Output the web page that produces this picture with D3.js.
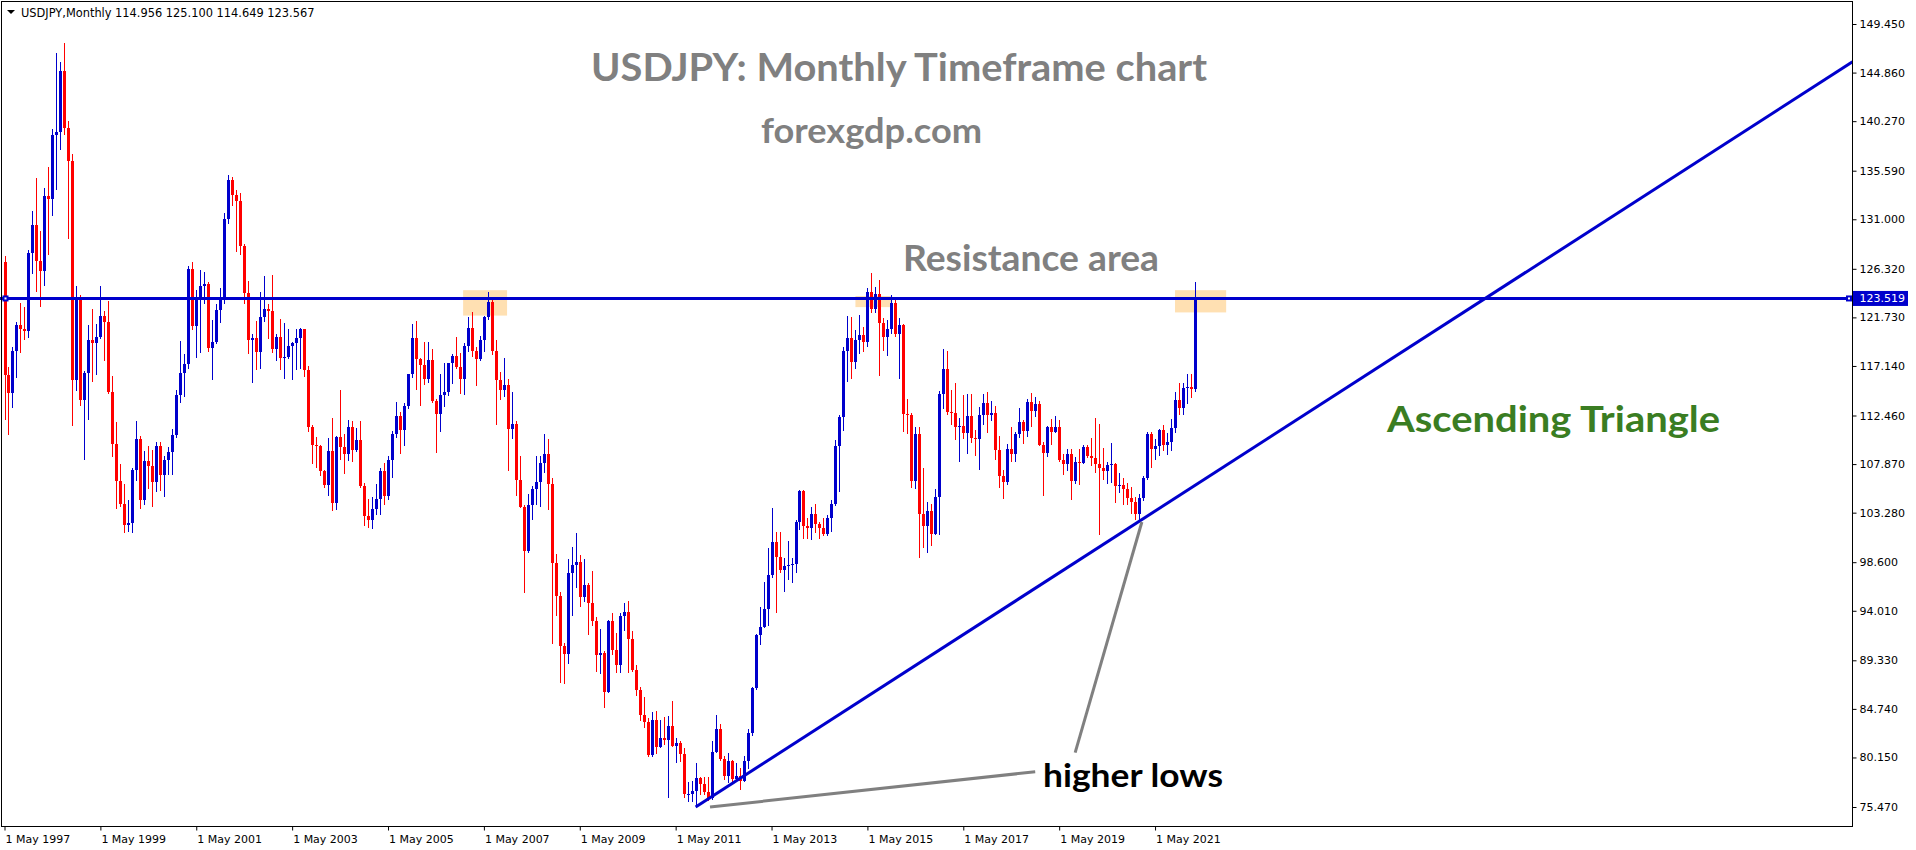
<!DOCTYPE html>
<html>
<head>
<meta charset="utf-8">
<title>USDJPY Monthly</title>
<script src="https://cdn.jsdelivr.net/npm/d3@7"></script>
<style>
  html, body { margin: 0; padding: 0; background: #fff; }
  svg { display: block; }
  .axis text { font-family: 'DejaVu Sans', sans-serif; font-size: 11px; fill: #000; }
  .axis line { stroke: #000; }
  .header { font-family: 'DejaVu Sans', sans-serif; font-size: 11.4px; fill: #000; }
  .price-tag { font-family: 'DejaVu Sans', sans-serif; font-size: 11px; fill: #fff; }
  .note { font-family: Lato, 'Open Sans', sans-serif; font-weight: 700; }
</style>
</head>
<body>
<div class="chart-container"></div>
<script>
// monthly bars, May 1997 .. Mar 2022 (one row per year)
const opens = [
  127.0, 116.3, 114.6, 118.6, 121.0, 120.6, 120.4, 127.8,
  130.5, 127.1, 126.1, 133.2, 132.9, 139.0, 139.2, 145.0, 139.6, 136.5, 115.8, 123.5,
  113.9, 116.5, 119.6, 119.3, 119.9, 121.9, 121.3, 114.7, 109.8, 106.3, 104.1, 102.1,
  102.3, 107.3, 110.2, 104.5, 108.2, 107.7, 106.2, 109.6, 106.8, 108.3, 109.0, 110.6,
  114.4, 116.5, 117.3, 126.3, 120.9, 123.7, 124.7, 124.9, 118.8, 119.4, 122.4, 123.6,
  131.0, 134.7, 133.3, 132.7, 128.5, 124.0, 119.6, 119.8, 118.5, 121.8, 122.5, 122.3,
  118.7, 119.9, 117.9, 118.0, 119.0, 119.3, 119.8, 120.6, 116.8, 111.4, 109.7, 109.6,
  107.2, 105.9, 109.1, 104.2, 110.4, 109.5, 108.8, 111.4, 109.2, 110.1, 105.8, 103.0,
  102.6, 103.6, 104.6, 107.2, 104.9, 108.3, 110.7, 112.4, 111.1, 113.4, 116.4, 119.8,
  117.8, 117.2, 115.9, 117.7, 113.8, 112.6, 114.4, 114.7, 117.4, 118.1, 117.0, 115.9,
  119.0, 120.7, 118.6, 117.8, 119.6, 121.8, 123.2, 118.6, 115.8, 114.9, 115.3, 111.2,
  111.7, 106.4, 103.8, 99.7, 104.0, 105.5, 106.2, 108.0, 108.8, 106.0, 98.5, 95.4,
  90.7, 89.9, 97.6, 98.3, 98.6, 95.3, 96.4, 94.7, 93.0, 89.8, 90.0, 86.3,
  93.0, 90.3, 88.9, 93.5, 93.9, 91.3, 88.4, 86.5, 84.2, 83.5, 80.4, 83.7,
  81.1, 82.0, 81.8, 83.1, 81.2, 81.5, 80.5, 76.7, 76.7, 77.0, 78.2, 77.6,
  76.9, 76.3, 80.7, 82.8, 80.0, 78.4, 79.8, 78.1, 78.4, 77.9, 79.8, 82.5,
  86.7, 91.7, 92.5, 94.2, 97.4, 100.5, 99.1, 97.9, 98.2, 98.3, 98.4, 102.4,
  105.3, 102.0, 101.8, 103.2, 102.2, 101.8, 101.3, 102.8, 104.1, 109.6, 112.3, 118.6,
  119.8, 117.5, 119.6, 120.1, 119.4, 124.1, 122.5, 123.9, 121.2, 119.9, 120.6, 123.1,
  120.2, 121.0, 112.6, 112.5, 106.3, 110.7, 103.2, 102.0, 103.4, 101.3, 104.8, 114.5,
  116.9, 112.8, 112.7, 111.4, 111.5, 110.8, 112.4, 110.3, 110.2, 112.5, 113.6, 112.5,
  112.7, 109.2, 106.7, 106.2, 109.3, 108.8, 110.7, 111.8, 111.0, 113.7, 112.9, 113.5,
  109.7, 108.9, 111.4, 110.9, 111.4, 108.3, 107.9, 108.8, 106.3, 108.1, 108.0, 109.5,
  108.6, 108.4, 107.9, 107.5, 107.2, 107.8, 107.9, 105.8, 105.9, 105.5, 104.7, 104.3,
  103.2, 104.7, 106.6, 110.7, 109.3, 109.6, 111.1, 109.7, 110.0, 111.3, 113.9, 113.2,
  115.08, 115.12, 114.956
];
const highs = [
  127.5, 117.0, 118.9, 121.3, 123.1, 122.7, 128.1, 131.8,
  134.9, 129.9, 134.0, 135.9, 139.5, 146.7, 145.9, 147.7, 140.3, 137.2, 124.7, 123.8,
  116.7, 121.0, 122.5, 121.1, 124.7, 122.3, 123.3, 116.2, 111.8, 107.9, 106.0, 104.5,
  107.5, 111.9, 110.5, 109.1, 109.6, 109.2, 110.0, 110.0, 108.6, 109.5, 111.2, 114.9,
  119.5, 118.3, 126.6, 127.0, 124.3, 126.2, 126.0, 125.1, 121.5, 123.0, 124.5, 131.6,
  135.2, 135.0, 133.8, 133.5, 128.7, 125.2, 120.2, 121.4, 124.1, 125.6, 123.0, 125.7,
  120.2, 121.6, 121.2, 120.6, 119.4, 120.6, 120.7, 120.6, 117.1, 111.6, 110.4, 109.7,
  107.3, 110.3, 112.2, 110.5, 114.9, 110.7, 112.0, 111.9, 111.3, 111.9, 106.1, 104.6,
  104.8, 106.0, 107.5, 108.0, 108.6, 111.0, 113.7, 112.8, 113.6, 116.4, 121.1, 121.4,
  117.9, 119.4, 119.4, 118.7, 114.0, 116.4, 117.4, 117.3, 118.3, 119.9, 118.4, 119.3,
  121.8, 122.2, 118.9, 120.0, 121.9, 124.1, 123.7, 119.6, 116.6, 117.9, 115.9, 114.7,
  111.9, 108.6, 104.0, 105.0, 105.8, 108.6, 108.6, 110.7, 110.2, 106.6, 99.4, 95.8,
  91.0, 98.9, 100.0, 101.4, 99.3, 98.9, 96.6, 97.8, 93.4, 92.3, 90.2, 93.1,
  93.8, 91.9, 93.8, 94.7, 94.9, 92.1, 88.9, 86.8, 85.9, 83.9, 84.4, 84.5,
  83.7, 84.0, 84.1, 85.5, 82.0, 81.7, 81.0, 77.8, 77.9, 79.6, 78.3, 78.3,
  78.3, 81.7, 84.2, 83.3, 80.3, 80.6, 79.9, 79.6, 79.2, 80.3, 82.8, 86.8,
  91.8, 94.4, 96.7, 99.9, 103.7, 101.5, 101.5, 99.0, 100.6, 99.0, 102.6, 105.4,
  105.4, 102.8, 103.8, 104.1, 102.4, 102.8, 103.1, 104.5, 110.1, 112.5, 118.9, 121.9,
  121.8, 120.5, 122.0, 120.8, 124.5, 125.9, 124.6, 125.3, 121.7, 121.5, 123.8, 123.6,
  121.7, 121.1, 114.0, 112.7, 111.4, 111.4, 107.5, 104.3, 104.1, 105.5, 114.8, 118.7,
  118.6, 114.9, 115.5, 112.2, 114.4, 114.5, 114.5, 111.1, 113.3, 114.5, 114.7, 113.8,
  113.4, 110.5, 107.3, 109.8, 111.4, 110.9, 113.2, 112.0, 114.0, 114.6, 114.2, 113.8,
  110.0, 111.5, 112.1, 112.4, 112.0, 108.8, 109.3, 109.3, 108.5, 109.3, 109.7, 109.7,
  110.3, 112.2, 111.7, 109.4, 108.1, 109.9, 108.0, 107.0, 106.6, 106.1, 105.7, 104.8,
  105.0, 106.7, 110.9, 110.9, 110.2, 111.2, 111.6, 110.8, 112.1, 114.7, 115.5, 115.5,
  116.35, 116.35, 125.1
];
const lows = [
  112.0, 110.6, 113.2, 116.0, 118.4, 119.6, 119.8, 125.8,
  124.1, 122.7, 124.7, 127.6, 131.3, 133.8, 137.5, 139.0, 129.1, 111.5, 114.8, 113.4,
  108.3, 112.0, 115.6, 116.3, 119.7, 117.6, 114.5, 108.5, 103.6, 103.8, 101.4, 101.5,
  101.4, 106.3, 103.6, 104.0, 105.5, 103.8, 105.2, 105.3, 104.8, 106.8, 106.8, 110.3,
  113.6, 114.2, 116.9, 120.5, 117.9, 118.4, 123.0, 118.5, 115.8, 119.2, 121.2, 123.0,
  130.6, 132.3, 127.9, 127.6, 123.0, 118.3, 115.5, 116.8, 116.9, 121.3, 119.7, 118.4,
  117.6, 116.8, 115.9, 117.8, 115.8, 116.8, 116.9, 116.1, 110.9, 107.9, 107.5, 106.7,
  105.6, 104.9, 103.4, 103.5, 108.3, 106.9, 108.2, 108.1, 109.0, 105.6, 102.0, 101.8,
  101.7, 103.1, 103.1, 104.0, 104.5, 106.6, 110.3, 108.8, 109.6, 113.1, 116.0, 114.9,
  113.4, 115.3, 115.5, 113.6, 108.9, 110.9, 113.3, 114.3, 115.4, 116.9, 114.5, 114.4,
  118.5, 118.0, 115.2, 117.6, 118.5, 121.5, 118.2, 111.6, 113.9, 114.2, 107.2, 110.2,
  104.9, 103.7, 95.7, 99.5, 102.6, 104.0, 103.8, 107.0, 103.5, 90.9, 93.5, 87.2,
  87.1, 89.0, 93.5, 96.2, 94.4, 94.8, 91.7, 92.6, 88.2, 88.0, 84.8, 86.2,
  89.8, 88.1, 88.1, 92.1, 88.1, 88.2, 86.0, 83.6, 82.9, 80.2, 80.2, 80.5,
  81.0, 81.3, 76.3, 81.1, 79.6, 79.7, 76.3, 75.9, 75.9, 75.5, 76.6, 76.6,
  76.0, 76.1, 80.6, 79.8, 78.0, 77.7, 77.6, 77.9, 77.1, 77.8, 79.1, 82.2,
  86.5, 90.8, 92.4, 92.6, 97.1, 93.8, 97.6, 95.8, 96.9, 96.6, 97.6, 101.6,
  100.8, 100.8, 100.7, 101.4, 100.8, 101.1, 101.1, 101.5, 103.9, 105.2, 111.0, 115.6,
  115.9, 116.9, 118.3, 118.5, 118.9, 122.1, 122.1, 116.2, 118.6, 118.1, 120.2, 119.9,
  115.9, 110.9, 110.7, 105.6, 105.5, 99.0, 99.9, 99.5, 100.1, 101.2, 101.2, 113.1,
  112.5, 111.6, 110.1, 108.1, 110.2, 108.8, 109.9, 108.6, 107.3, 111.6, 110.8, 111.9,
  108.3, 105.6, 104.6, 105.9, 108.1, 108.1, 110.3, 109.8, 110.4, 111.4, 112.3, 109.6,
  104.9, 108.5, 109.7, 110.8, 108.1, 106.8, 107.2, 104.5, 106.0, 105.9, 107.9, 108.4,
  107.7, 107.0, 101.2, 106.4, 106.0, 106.1, 104.2, 105.1, 104.0, 104.0, 103.2, 102.6,
  102.6, 104.4, 106.4, 107.5, 108.3, 108.6, 109.1, 108.7, 109.1, 110.8, 112.5, 112.5,
  113.5, 114.15, 114.649
];
const closes = [
  116.3, 114.6, 118.6, 121.0, 120.6, 120.4, 127.8, 130.5,
  127.1, 126.1, 133.2, 132.9, 139.0, 139.2, 145.0, 139.6, 136.5, 115.8, 123.5, 113.9,
  116.5, 119.6, 119.3, 119.9, 121.9, 121.3, 114.7, 109.8, 106.3, 104.1, 102.1, 102.3,
  107.3, 110.2, 104.5, 108.2, 107.7, 106.2, 109.6, 106.8, 108.3, 109.0, 110.6, 114.4,
  116.5, 117.3, 126.3, 120.9, 123.7, 124.7, 124.9, 118.8, 119.4, 122.4, 123.6, 131.0,
  134.7, 133.3, 132.7, 128.5, 124.0, 119.6, 119.8, 118.5, 121.8, 122.5, 122.3, 118.7,
  119.9, 117.9, 118.0, 119.0, 119.3, 119.8, 120.6, 116.8, 111.4, 109.7, 109.6, 107.2,
  105.9, 109.1, 104.2, 110.4, 109.5, 108.8, 111.4, 109.2, 110.1, 105.8, 103.0, 102.6,
  103.6, 104.6, 107.2, 104.9, 108.3, 110.7, 112.4, 111.1, 113.4, 116.4, 119.8, 117.8,
  117.2, 115.9, 117.7, 113.8, 112.6, 114.4, 114.7, 117.4, 118.1, 117.0, 115.9, 119.0,
  120.7, 118.6, 117.8, 119.6, 121.8, 123.2, 118.6, 115.8, 114.9, 115.3, 111.2, 111.7,
  106.4, 103.8, 99.7, 104.0, 105.5, 106.2, 108.0, 108.8, 106.0, 98.5, 95.4, 90.7,
  89.9, 97.6, 98.3, 98.6, 95.3, 96.4, 94.7, 93.0, 89.8, 90.0, 86.3, 93.0,
  90.3, 88.9, 93.5, 93.9, 91.3, 88.4, 86.5, 84.2, 83.5, 80.4, 83.7, 81.1,
  82.0, 81.8, 83.1, 81.2, 81.5, 80.5, 76.7, 76.7, 77.0, 78.2, 77.6, 76.9,
  76.3, 80.7, 82.8, 80.0, 78.4, 79.8, 78.1, 78.4, 77.9, 79.8, 82.5, 86.7,
  91.7, 92.5, 94.2, 97.4, 100.5, 99.1, 97.9, 98.2, 98.3, 98.4, 102.4, 105.3,
  102.0, 101.8, 103.2, 102.2, 101.8, 101.3, 102.8, 104.1, 109.6, 112.3, 118.6, 119.8,
  117.5, 119.6, 120.1, 119.4, 124.1, 122.5, 123.9, 121.2, 119.9, 120.6, 123.1, 120.2,
  121.0, 112.6, 112.5, 106.3, 110.7, 103.2, 102.0, 103.4, 101.3, 104.8, 114.5, 116.9,
  112.8, 112.7, 111.4, 111.5, 110.8, 112.4, 110.3, 110.2, 112.5, 113.6, 112.5, 112.7,
  109.2, 106.7, 106.2, 109.3, 108.8, 110.7, 111.8, 111.0, 113.7, 112.9, 113.5, 109.7,
  108.9, 111.4, 110.9, 111.4, 108.3, 107.9, 108.8, 106.3, 108.1, 108.0, 109.5, 108.6,
  108.4, 107.9, 107.5, 107.2, 107.8, 107.9, 105.8, 105.9, 105.5, 104.7, 104.3, 103.2,
  104.7, 106.6, 110.7, 109.3, 109.6, 111.1, 109.7, 110.0, 111.3, 113.9, 113.2, 115.1,
  115.12, 115.0, 123.567
];

// axis ticks
const priceTicks = [149.450, 144.860, 140.270, 135.590, 131.000, 126.320, 121.730, 117.140,
  112.460, 107.870, 103.280, 98.600, 94.010, 89.330, 84.740, 80.150, 75.470];
const dateTicks = ['1 May 1997', '1 May 1999', '1 May 2001', '1 May 2003', '1 May 2005',
  '1 May 2007', '1 May 2009', '1 May 2011', '1 May 2013', '1 May 2015', '1 May 2017',
  '1 May 2019', '1 May 2021'];
const barsPerDateTick = 24;

// drawn objects (bar index, price)
const resistancePrice = 123.519;
const trendAnchors = [[173, 75.47], [285, 102.7]];
const pointerLines = [
  [[176.6, 75.47], [258, 78.8]],
  [[268, 80.6], [284.7, 102.4]]
];
const zones = [
  { from: 114.8, to: 125.8, top: 124.3, bottom: 121.9 },
  { from: 213.0, to: 222.2, top: 123.75, bottom: 122.7 },
  { from: 293.0, to: 305.8, top: 124.3, bottom: 122.2 }
];
const headerText = 'USDJPY,Monthly  114.956 125.100 114.649 123.567';

// main
function draw() {
  const width = 1916;
  const height = 850;
  const plot = { left: 1.5, top: 1.5, right: 1852.5, bottom: 826.5 };
  const bull = '#0000cc';
  const bear = '#ff0000';

  const bars = closes.map((c, i) => ({ i, o: opens[i], h: highs[i], l: lows[i], c }));

  const xScale = d3.scaleLinear().domain([0, 298]).range([4.5, 1195]);
  const yScale = d3.scaleLinear().domain([75.47, 149.45]).range([807, 24]);

  const svg = d3.select('.chart-container')
    .append('svg')
    .attr('width', width)
    .attr('height', height);

  svg.append('rect').attr('width', width).attr('height', height).attr('fill', '#fff');

  svg.append('clipPath').attr('id', 'plot-clip')
    .append('rect')
    .attr('x', 0).attr('y', plot.top)
    .attr('width', plot.right).attr('height', plot.bottom - plot.top);

  const inner = svg.append('g').attr('clip-path', 'url(#plot-clip)');

  // highlight zones go behind the candles
  inner.selectAll('.zone')
    .data(zones)
    .join('rect')
      .attr('class', 'zone')
      .attr('x', d => xScale(d.from))
      .attr('y', d => yScale(d.top))
      .attr('width', d => xScale(d.to) - xScale(d.from))
      .attr('height', d => yScale(d.bottom) - yScale(d.top))
      .attr('fill', '#ffe0b2');

  // candles
  const candles = inner.append('g').attr('shape-rendering', 'crispEdges');
  const colorOf = d => (d.c >= d.o ? bull : bear);
  const px = d => Math.round(xScale(d.i));

  candles.selectAll('.wick')
    .data(bars)
    .join('rect')
      .attr('class', 'wick')
      .attr('x', px)
      .attr('y', d => Math.round(yScale(d.h)))
      .attr('width', 1)
      .attr('height', d => Math.max(1, Math.round(yScale(d.l)) - Math.round(yScale(d.h))))
      .attr('fill', colorOf);

  candles.selectAll('.body')
    .data(bars)
    .join('rect')
      .attr('class', 'body')
      .attr('x', d => px(d) - 1)
      .attr('y', d => Math.round(yScale(Math.max(d.o, d.c))))
      .attr('width', 3)
      .attr('height', d => Math.max(1,
        Math.round(yScale(Math.min(d.o, d.c))) - Math.round(yScale(Math.max(d.o, d.c)))))
      .attr('fill', colorOf);

  // resistance line
  const yRes = yScale(resistancePrice);
  inner.append('line')
    .attr('x1', 0).attr('x2', plot.right)
    .attr('y1', yRes).attr('y2', yRes)
    .attr('stroke', bull).attr('stroke-width', 3);

  [5.5, 1849].forEach(x => {
    inner.append('rect')
      .attr('x', x - 3).attr('y', yRes - 3).attr('width', 6).attr('height', 6)
      .attr('fill', bull);
    inner.append('rect')
      .attr('x', x - 1).attr('y', yRes - 1).attr('width', 2).attr('height', 2)
      .attr('fill', '#fff');
  });

  // ascending trend line, extended to the right edge
  const [a, b] = trendAnchors.map(([bar, price]) => [xScale(bar), yScale(price)]);
  const slope = (b[1] - a[1]) / (b[0] - a[0]);
  inner.append('line')
    .attr('x1', a[0]).attr('y1', a[1])
    .attr('x2', plot.right).attr('y2', a[1] + slope * (plot.right - a[0]))
    .attr('stroke', bull).attr('stroke-width', 3);

  // "higher lows" pointers
  inner.selectAll('.pointer')
    .data(pointerLines)
    .join('line')
      .attr('class', 'pointer')
      .attr('x1', d => xScale(d[0][0])).attr('y1', d => yScale(d[0][1]))
      .attr('x2', d => xScale(d[1][0])).attr('y2', d => yScale(d[1][1]))
      .attr('stroke', '#808080').attr('stroke-width', 3);

  // frame
  svg.append('rect')
    .attr('x', plot.left).attr('y', plot.top)
    .attr('width', plot.right - plot.left).attr('height', plot.bottom - plot.top)
    .attr('fill', 'none').attr('stroke', '#000').attr('stroke-width', 1);

  // price axis
  const yAxis = d3.axisRight(yScale)
    .tickValues(priceTicks)
    .tickFormat(d3.format('.3f'))
    .tickSizeInner(4)
    .tickSizeOuter(0)
    .tickPadding(3);

  const yAxisDraw = svg.append('g')
    .attr('class', 'axis')
    .attr('transform', `translate(${plot.right}, 0)`)
    .call(yAxis);
  yAxisDraw.select('.domain').remove();

  // date axis
  const xAxis = d3.axisBottom(xScale)
    .tickValues(dateTicks.map((_, i) => i * barsPerDateTick))
    .tickFormat((d, i) => dateTicks[i])
    .tickSizeInner(4)
    .tickSizeOuter(0)
    .tickPadding(5);

  const xAxisDraw = svg.append('g')
    .attr('class', 'axis')
    .attr('transform', `translate(0, ${plot.bottom})`)
    .call(xAxis);
  xAxisDraw.select('.domain').remove();
  xAxisDraw.selectAll('text').attr('text-anchor', 'start').attr('dx', '0.5');

  // current price label
  const label = svg.append('g').attr('transform', `translate(${plot.right}, ${yRes})`);
  label.append('rect')
    .attr('x', 0.5).attr('y', -7.5).attr('width', 55).attr('height', 15)
    .attr('fill', bull);
  label.append('text')
    .attr('class', 'price-tag')
    .attr('x', 7).attr('dy', '0.35em')
    .text(d3.format('.3f')(resistancePrice));

  // header
  svg.append('path').attr('d', 'M7,10 L15,10 L11,14 Z').attr('fill', '#000');
  svg.append('text').attr('class', 'header')
    .attr('x', 21).attr('y', 17)
    .text(headerText);

  // annotations
  const notes = [
    { text: 'USDJPY: Monthly Timeframe chart', x: 591, y: 81, size: 39, len: 616, color: '#808080' },
    { text: 'forexgdp.com', x: 761, y: 143, size: 34, len: 221, color: '#808080' },
    { text: 'Resistance area', x: 903, y: 271, size: 36, len: 256, color: '#808080' },
    { text: 'Ascending Triangle', x: 1387, y: 432, size: 37, len: 333, color: '#3a7d22' },
    { text: 'higher lows', x: 1043, y: 787, size: 33, len: 180, color: '#000' }
  ];
  svg.selectAll('.note')
    .data(notes)
    .join('text')
      .attr('class', 'note')
      .attr('x', d => d.x)
      .attr('y', d => d.y)
      .attr('font-size', d => d.size)
      .attr('textLength', d => d.len)
      .attr('lengthAdjust', 'spacingAndGlyphs')
      .attr('fill', d => d.color)
      .text(d => d.text);
}

draw();
</script>
</body>
</html>
